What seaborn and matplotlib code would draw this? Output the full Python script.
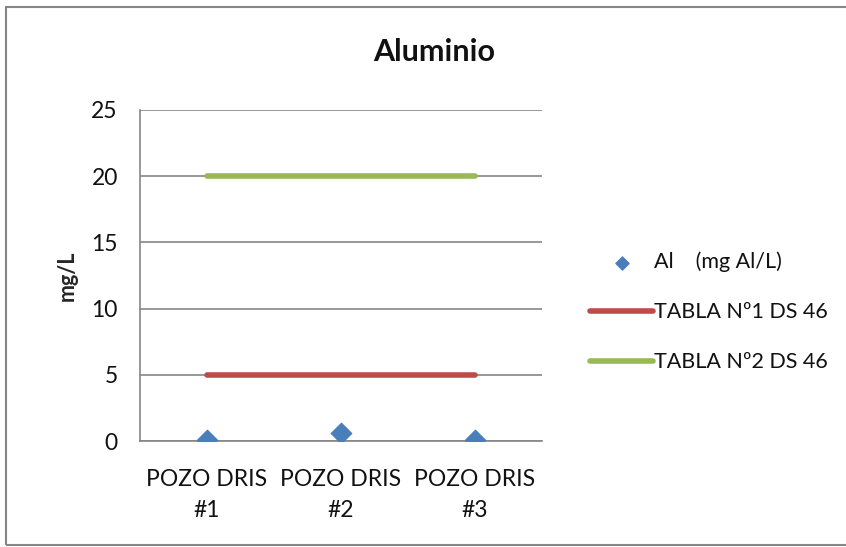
import matplotlib
matplotlib.use("Agg")
import matplotlib.pyplot as plt
import seaborn as sns
import pandas as pd
from matplotlib.patches import Rectangle

# data
wells = ["POZO DRIS\n#1", "POZO DRIS\n#2", "POZO DRIS\n#3"]
al_values = [0.08, 0.6, 0.08]
tabla1_limit = [5, 5, 5]
tabla2_limit = [20, 20, 20]
y_ticks = [0, 5, 10, 15, 20, 25]

sns.set_style("white")
plt.rcParams['font.family'] = ['Lato', 'DejaVu Sans']
plt.rcParams['text.color'] = '#111111'

df = pd.DataFrame({"pos": range(len(wells)), "al": al_values,
                   "t1": tabla1_limit, "t2": tabla2_limit})

fig = plt.figure(figsize=(8.46, 5.47), dpi=100)
ax = fig.add_axes([140 / 846, 1 - 441 / 547, 402 / 846, 331 / 547])

sns.scatterplot(data=df, x="pos", y="al", ax=ax, marker="D", s=110, color="#4a7ebb",
                edgecolor="#4a7ebb", zorder=5, label="Al    (mg Al/L)")
sns.lineplot(data=df, x="pos", y="t1", ax=ax, color="#be4b48", linewidth=4,
             label="TABLA Nº1 DS 46", zorder=4)
sns.lineplot(data=df, x="pos", y="t2", ax=ax, color="#98b954", linewidth=4,
             label="TABLA Nº2 DS 46", zorder=4)

ax.set_xlim(-0.5, 2.5)
ax.set_ylim(0, 25)
ax.set_yticks(y_ticks)
ax.set_xticks(range(len(wells)))
ax.set_xticklabels(wells, fontsize=16.5, linespacing=1.6)
ax.tick_params(axis="y", labelsize=16.5, pad=16, length=0, labelcolor="#111111")
ax.tick_params(axis="x", pad=20, length=0, labelcolor="#111111")
ax.yaxis.grid(True, color="#868686", linewidth=1.2)
ax.set_axisbelow(True)
for side in ["top", "right"]:
    ax.spines[side].set_visible(False)
for side in ["left", "bottom"]:
    ax.spines[side].set_color("#868686")
    ax.spines[side].set_linewidth(1.2)

ax.set_xlabel("")
ax.set_ylabel("mg/L", fontsize=15.5, fontweight="bold", labelpad=10)

fig.text(434 / 846, 1 - 52 / 547, "Aluminio", fontsize=22, fontweight="bold",
         ha="center", va="center")

# legend to the right of the plot
handles, labels = ax.get_legend_handles_labels()
ax.legend(handles, labels, loc="center left", bbox_to_anchor=(571 / 846, 1 - 312 / 547),
          bbox_transform=fig.transFigure, frameon=False, fontsize=15.5,
          handlelength=2.9, handletextpad=0.05, labelspacing=1.4, markerscale=0.65)

# outer chart border
fig.patches.append(Rectangle((6 / 846, 2 / 547), 845 / 846, 538 / 547, transform=fig.transFigure,
                             fill=False, edgecolor="#868686", linewidth=1.5))

fig.savefig("out.png", dpi=100)
